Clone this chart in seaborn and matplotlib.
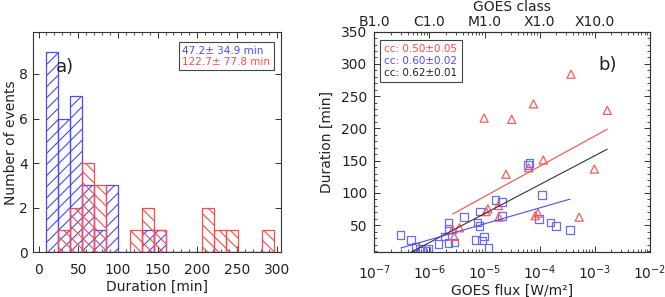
import numpy as np
import pandas as pd
import matplotlib
matplotlib.use("Agg")
import matplotlib.pyplot as plt
import seaborn as sns
from matplotlib.ticker import MultipleLocator, LogLocator, NullFormatter

# ---------------- data ----------------
# blue events (squares)
blue_flux = [3.0e-7, 4.6e-7, 5.6e-7, 6.8e-7, 7.4e-7, 8.9e-7, 9.5e-7, 1.46e-6,
             2.2e-6, 2.2e-6, 1.87e-6, 2.2e-6, 2.84e-6, 4.25e-6, 7.4e-6, 8.05e-6,
             7.0e-6, 8.9e-6, 9.8e-6, 1.17e-5, 8.3e-6, 1.57e-5, 2.05e-5, 2.05e-5,
             6.2e-5, 6.5e-5, 1.09e-4, 9.8e-5, 1.58e-4, 1.97e-4, 3.54e-4]
blue_dur = [35, 27, 16, 14, 11, 11, 14, 20.7,
            53, 44.4, 32.5, 22.3, 23, 62.5, 54, 49,
            27.4, 26, 32.5, 14.5, 71, 89, 86, 64.6,
            143, 146, 97, 60, 54, 49, 42.8]
# red events (triangles)
red_flux = [3.7e-4, 1.68e-3, 7.7e-5, 9.8e-6, 3.1e-5, 1.16e-4, 2.45e-5, 6.3e-5,
            9.8e-4, 5.2e-4, 9.3e-5, 8.3e-5, 1.15e-5, 1.07e-5, 1.78e-5, 1.82e-5,
            3.5e-6, 2.63e-6, 2.8e-6]
red_dur = [284, 228, 238, 216, 214, 151, 129, 139,
           137, 62.5, 68.7, 64.7, 75.4, 71, 80.5, 62.5,
           46, 43, 32.5]

# fit lines (end points)
red_fit_x = [2.63e-6, 1.68e-3]
red_fit_y = [67.2, 198.8]
blue_fit_x = [3.0e-7, 3.54e-4]
blue_fit_y = [14.5, 90.4]
all_fit_x = [3.0e-7, 1.68e-3]
all_fit_y = [-0.3, 167.8]

hist_labels = ["47.2\u00b1 34.9 min", "122.7\u00b1 77.8 min"]
cc_labels = ["cc: 0.50\u00b10.05", "cc: 0.60\u00b10.02", "cc: 0.62\u00b10.01"]
goes_ticks = [1e-7, 1e-6, 1e-5, 1e-4, 1e-3]
goes_labels = ["B1.0", "C1.0", "M1.0", "X1.0", "X10.0"]

# ---------------- style ----------------
sns.set_theme(style="ticks")
plt.rcParams["font.family"] = ["DejaVu Sans"]
plt.rcParams["hatch.linewidth"] = 0.8
TXT = "#222222"
BLUE = "#4a4aff"
RED = "#ff4a4a"
BLUE_M = "#6a6aff"
RED_M = "#ff5a5a"

fig = plt.figure(figsize=(6.65, 2.97), dpi=100)
ax1 = fig.add_axes([0.0496, 0.1505, 0.3730, 0.7415])
ax2 = fig.add_axes([0.5629, 0.1505, 0.4145, 0.7431])

def style_axis(ax):
    for s in ax.spines.values():
        s.set_color("#333333")
        s.set_linewidth(0.8)
    ax.tick_params(which="both", direction="in", colors="#333333",
                   labelcolor=TXT, labelsize=10)
    ax.tick_params(which="major", length=4.5, width=0.7)
    ax.tick_params(which="minor", length=2.5, width=0.6)

# ---------------- panel a ----------------
df_b = pd.DataFrame({"dur": blue_dur})
df_r = pd.DataFrame({"dur": red_dur})
sns.histplot(data=df_b, x="dur", binwidth=15.1, binrange=(9.5, 296.4),
             fill=False, color=BLUE, hatch="///", linewidth=0.9, ax=ax1)
sns.histplot(data=df_r, x="dur", binwidth=15.1, binrange=(9.5, 296.4),
             fill=False, color=RED, hatch="\\\\\\", linewidth=0.9, ax=ax1)
ax1.set_xlim(-7, 305.5)
ax1.set_ylim(0, 9.88)
ax1.xaxis.set_major_locator(MultipleLocator(50))
ax1.xaxis.set_minor_locator(MultipleLocator(10))
ax1.yaxis.set_major_locator(MultipleLocator(2))
style_axis(ax1)
ax1.tick_params(which="both", top=True, right=True)
ax1.tick_params(axis="x", pad=8)
ax1.tick_params(axis="y", pad=3.5)
ax1.set_xlabel("Duration [min]", fontsize=10, color=TXT, labelpad=2)
ax1.set_ylabel("Number of events", fontsize=10, color=TXT, labelpad=1)
ax1.text(0.129, 0.841, "a)", transform=ax1.transAxes, fontsize=13,
         color=TXT, ha="center", va="center")
h1 = [plt.Line2D([], [], linestyle="none") for _ in hist_labels]
leg1 = ax1.legend(h1, hist_labels, loc="upper right",
                  bbox_to_anchor=(0.972, 0.955), handlelength=0,
                  handletextpad=0, labelcolor=[BLUE, RED], fontsize=7.5,
                  frameon=True, fancybox=False, framealpha=1,
                  edgecolor="#444444", borderpad=0.35, labelspacing=0.1,
                  borderaxespad=0)
leg1.get_frame().set_linewidth(0.8)

# ---------------- panel b ----------------
df_bs = pd.DataFrame({"flux": blue_flux, "dur": blue_dur})
df_rs = pd.DataFrame({"flux": red_flux, "dur": red_dur})
sns.scatterplot(data=df_bs, x="flux", y="dur", marker="s", s=30,
                facecolor="none", edgecolor=BLUE_M, linewidth=0.9, ax=ax2)
sns.scatterplot(data=df_rs, x="flux", y="dur", marker="^", s=34,
                facecolor="none", edgecolor=RED_M, linewidth=0.9, ax=ax2)
sns.lineplot(x=red_fit_x, y=red_fit_y, color=RED, linewidth=0.8, ax=ax2)
sns.lineplot(x=all_fit_x, y=all_fit_y, color="#333333", linewidth=0.8, ax=ax2)
sns.lineplot(x=blue_fit_x, y=blue_fit_y, color=BLUE, linewidth=0.8, ax=ax2)
ax2.set_xscale("log")
ax2.set_xlim(1e-7, 1e-2)
ax2.set_ylim(8, 350)
ax2.xaxis.set_major_locator(LogLocator(base=10, numticks=10))
ax2.xaxis.set_minor_locator(LogLocator(base=10, subs=np.arange(2, 10), numticks=20))
ax2.xaxis.set_minor_formatter(NullFormatter())
ax2.yaxis.set_major_locator(MultipleLocator(50))
ax2.yaxis.set_minor_locator(MultipleLocator(10))
style_axis(ax2)
ax2.tick_params(which="both", top=False, right=True)
ax2.tick_params(axis="x", pad=8)
ax2.tick_params(axis="y", pad=5)
ax2.set_xlabel("GOES flux [W/m\u00b2]", fontsize=10, color=TXT, labelpad=1)
ax2.set_ylabel("Duration [min]", fontsize=10, color=TXT, labelpad=5)
ax2.text(0.848, 0.849, "b)", transform=ax2.transAxes, fontsize=13,
         color=TXT, ha="center", va="center")
h2 = [plt.Line2D([], [], linestyle="none") for _ in cc_labels]
leg2 = ax2.legend(h2, cc_labels, loc="upper left",
                  bbox_to_anchor=(0.021, 0.962), handlelength=0,
                  handletextpad=0, labelcolor=[RED, BLUE, "#222222"],
                  fontsize=7.5, frameon=True, fancybox=False, framealpha=1,
                  edgecolor="#444444", borderpad=0.4, labelspacing=0.2,
                  borderaxespad=0)
leg2.get_frame().set_linewidth(0.8)

ax2t = ax2.twiny()
ax2t.set_xscale("log")
ax2t.set_xlim(1e-7, 1e-2)
ax2t.set_xticks(goes_ticks)
ax2t.set_xticklabels(goes_labels)
ax2t.xaxis.set_minor_locator(LogLocator(base=10, subs=np.arange(2, 10), numticks=20))
ax2t.xaxis.set_minor_formatter(NullFormatter())
style_axis(ax2t)
ax2t.tick_params(axis="x", pad=2)
ax2t.set_xlabel("GOES class", fontsize=10, color=TXT, labelpad=3)

fig.savefig("out.png", dpi=100)
